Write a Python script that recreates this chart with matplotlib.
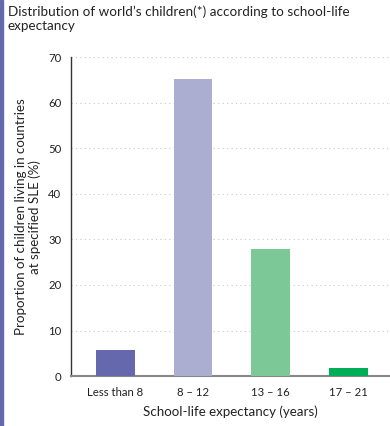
import matplotlib.pyplot as plt
from matplotlib.patches import Rectangle

# data
categories = ["Less than 8", "8 \u2013 12", "13 \u2013 16", "17 \u2013 21"]
values = [5.7, 65.2, 27.9, 1.8]
colors = ["#6668AE", "#ABADD1", "#7CC897", "#00AE5A"]
yticks = [0, 10, 20, 30, 40, 50, 60, 70]

plt.rcParams['font.family'] = ['Lato', 'DejaVu Sans']

fig = plt.figure(figsize=(3.9, 4.26), dpi=100)
ax = fig.add_axes([0.182, 0.117, 0.815, 0.749])

# purple strip on the left edge
fig.patches.append(Rectangle((0, 0), 3 / 390, 1, transform=fig.transFigure,
                             color="#6668AE", zorder=5))

x = range(len(categories))
ax.bar(x, values, width=0.5, color=colors, zorder=3)

ax.set_xlim(-0.57, 3.52)
ax.set_ylim(0, 70)
ax.set_yticks(yticks)
ax.set_xticks(list(x))
ax.set_xticklabels(categories)

for y in yticks[1:]:
    ax.axhline(y, color="#c8c8c8", linestyle=(0, (1, 3)), linewidth=0.8, zorder=1)

for s in ["top", "right"]:
    ax.spines[s].set_visible(False)
ax.spines["left"].set_color("#333333")
ax.spines["left"].set_linewidth(1.0)
ax.spines["bottom"].set_color("#888888")
ax.spines["bottom"].set_linewidth(1.5)

ax.tick_params(axis="both", length=0, labelsize=8.2, colors="#222222")
ax.tick_params(axis="y", pad=7)
ax.tick_params(axis="x", pad=8)

ax.set_xlabel("School-life expectancy (years)", fontsize=9.6, color="#222222", labelpad=5)
ax.set_ylabel("Proportion of children living in countries\nat specified SLE (%)",
              fontsize=9.6, color="#222222", labelpad=5, linespacing=1.12)

fig.text(8 / 390, 1 - 5 / 426, "Distribution of world\u2019s children(*) according to school-life\nexpectancy",
         ha="left", va="top", fontsize=9.7, color="#222222", linespacing=1.25)

fig.savefig("out.png", dpi=100)
